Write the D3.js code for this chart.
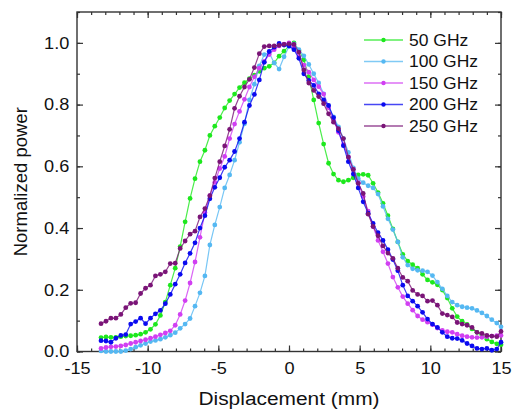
<!DOCTYPE html>
<html>
<head>
<meta charset="utf-8">
<script src="https://cdn.jsdelivr.net/npm/d3@7"></script>
<style>
  body { margin: 0; background: #fff; }
  text { font-family: "Liberation Sans", Arial, sans-serif; fill: #111; }
</style>
</head>
<body>
<script>
var W = 513, H = 410;
var margin = {top: 12, right: 12, bottom: 58.5, left: 77};
var w = W - margin.left - margin.right;   // 424
var h = H - margin.top - margin.bottom;   // 339.5

// displacement grid (mm)
var disp = [-13.3, -12.95, -12.6, -12.25, -11.9, -11.55, -11.2, -10.85, -10.5, -10.15,
    -9.8, -9.45, -9.1, -8.75, -8.4, -8.05, -7.7, -7.35, -7.0, -6.65,
    -6.3, -5.95, -5.6, -5.25, -4.9, -4.55, -4.2, -3.85, -3.5, -3.15,
    -2.8, -2.45, -2.1, -1.75, -1.4, -1.05, -0.7, -0.35, 0, 0.35,
    0.7, 1.05, 1.4, 1.75, 2.1, 2.45, 2.8, 3.15, 3.5, 3.85,
    4.2, 4.55, 4.9, 5.25, 5.6, 5.95, 6.3, 6.65, 7.0, 7.35,
    7.7, 8.05, 8.4, 8.75, 9.1, 9.45, 9.8, 10.15, 10.5, 10.85,
    11.2, 11.55, 11.9, 12.25, 12.6, 12.95, 13.3, 13.65, 14.0, 14.35,
    14.7, 15.0];

var p50 = [0.045, 0.047, 0.046, 0.046, 0.048, 0.05, 0.051, 0.053, 0.056, 0.062,
    0.072, 0.088, 0.117, 0.16, 0.215, 0.27, 0.34, 0.42, 0.496, 0.56,
    0.615, 0.652, 0.7, 0.73, 0.758, 0.789, 0.813, 0.834, 0.855, 0.871,
    0.884, 0.895, 0.908, 0.918, 0.924, 0.935, 0.957, 0.973, 0.99, 1.0,
    0.975, 0.945, 0.89, 0.815, 0.74, 0.672, 0.61, 0.575, 0.555, 0.55,
    0.555, 0.563, 0.572, 0.574, 0.571, 0.545, 0.515, 0.48, 0.44, 0.397,
    0.355, 0.315, 0.293, 0.281, 0.27, 0.25, 0.232, 0.224, 0.216, 0.199,
    0.173, 0.14, 0.113, 0.098, 0.088, 0.073, 0.062, 0.051, 0.04, 0.031,
    0.025, 0.022];

var p100 = [0.002, 0.0, 0.0, 0.0, 0.0, 0.003, 0.008, 0.014, 0.02, 0.026,
    0.032, 0.036, 0.04, 0.046, 0.053, 0.061, 0.075, 0.089, 0.107, 0.147,
    0.19, 0.245, 0.345, 0.41, 0.468, 0.53, 0.572, 0.62, 0.678, 0.738,
    0.815, 0.866, 0.925, 0.962, 0.968, 0.935, 0.915, 0.955, 0.988, 0.997,
    0.978, 0.958, 0.93, 0.9, 0.87, 0.835, 0.795, 0.76, 0.728, 0.69,
    0.645, 0.595, 0.56, 0.547, 0.537, 0.53, 0.51, 0.47, 0.43, 0.395,
    0.355, 0.305, 0.28, 0.268, 0.263, 0.262, 0.258, 0.246, 0.225, 0.203,
    0.18, 0.16, 0.15, 0.145, 0.142, 0.14, 0.133, 0.125, 0.115, 0.103,
    0.092, 0.08];

var p150 = [0.01, 0.013, 0.015, 0.016, 0.018, 0.021, 0.026, 0.03, 0.034, 0.038,
    0.043, 0.048, 0.054, 0.06, 0.067, 0.085, 0.12, 0.165, 0.222, 0.29,
    0.37, 0.45, 0.505, 0.548, 0.593, 0.632, 0.69, 0.737, 0.778, 0.817,
    0.857, 0.89, 0.918, 0.94, 0.962, 0.978, 0.99, 0.996, 1.0, 0.985,
    0.955, 0.928, 0.905, 0.88, 0.858, 0.834, 0.79, 0.75, 0.71, 0.67,
    0.63, 0.59, 0.547, 0.502, 0.455, 0.405, 0.36, 0.323, 0.285, 0.241,
    0.208, 0.178, 0.155, 0.134, 0.115, 0.103, 0.095, 0.087, 0.076, 0.068,
    0.064, 0.062, 0.056, 0.051, 0.048, 0.046, 0.045, 0.046, 0.048, 0.05,
    0.051, 0.052];

var p200 = [0.035, 0.034, 0.03, 0.043, 0.052, 0.055, 0.089, 0.097, 0.108, 0.09,
    0.108, 0.122, 0.133, 0.155, 0.185, 0.218, 0.25, 0.287, 0.318, 0.352,
    0.4, 0.44, 0.495, 0.532, 0.563, 0.597, 0.62, 0.648, 0.69, 0.743,
    0.797, 0.833, 0.88, 0.937, 0.972, 0.986, 0.998, 0.993, 0.99, 0.978,
    0.95, 0.9, 0.878, 0.862, 0.835, 0.815, 0.797, 0.758, 0.716, 0.667,
    0.615, 0.575, 0.53, 0.485, 0.448, 0.415, 0.385, 0.36, 0.33, 0.298,
    0.262, 0.215, 0.18, 0.163, 0.147, 0.127, 0.105, 0.089, 0.078, 0.062,
    0.048, 0.043, 0.042, 0.036, 0.026, 0.018, 0.01, 0.008, 0.01, 0.004,
    0.008, 0.03];

var p250 = [0.09, 0.098, 0.108, 0.108, 0.12, 0.142, 0.156, 0.158, 0.188, 0.205,
    0.215, 0.245, 0.25, 0.258, 0.285, 0.286, 0.334, 0.358, 0.38, 0.39,
    0.436, 0.463, 0.505, 0.562, 0.615, 0.666, 0.72, 0.788, 0.827, 0.857,
    0.882, 0.92, 0.965, 0.988, 0.99, 0.99, 0.992, 0.995, 0.997, 0.995,
    0.97, 0.912, 0.87, 0.846, 0.826, 0.803, 0.77, 0.743, 0.722, 0.69,
    0.63, 0.59, 0.545, 0.512, 0.445, 0.405, 0.375, 0.342, 0.319, 0.302,
    0.27, 0.24, 0.228, 0.198, 0.185, 0.18, 0.163, 0.165, 0.15, 0.123,
    0.118, 0.112, 0.094, 0.089, 0.085, 0.078, 0.062, 0.059, 0.052, 0.05,
    0.048, 0.065];

var names = ["50 GHz", "100 GHz", "150 GHz", "200 GHz", "250 GHz"];
var colors = ["#1de81d", "#55b8f2", "#d13ff2", "#0a0af0", "#7a1477"];
var xTicks = [-15, -10, -5, 0, 5, 10, 15];
var yTicks = [0.0, 0.2, 0.4, 0.6, 0.8, 1.0];

var series = [p50, p100, p150, p200, p250].map(function (vals, k) {
    return {name: names[k], color: colors[k],
        values: vals.map(function (v, i) { return {x: disp[i], y: v}; })};
});

var svg = d3.select("body").append("svg")
    .attr("width", W).attr("height", H)
    .append("g")
    .attr("transform", "translate(" + margin.left + "," + margin.top + ")");

var x = d3.scaleLinear().domain([-15, 15]).range([0, w]);
var y = d3.scaleLinear().domain([0, 1.1]).range([h, 0]);

// stretch text horizontally a bit (reference glyphs are wide)
function widen(sel, k) {
    sel.each(function () {
        var t = d3.select(this);
        t.attr("transform", (t.attr("transform") || "") + " scale(" + k + ",1)");
    });
}

var axisColor = "#333";
function styleAxis(g) {
    g.select(".domain").remove();
    g.selectAll("line").attr("stroke", axisColor).attr("stroke-width", 1.2);
    g.selectAll("text").style("font-size", "16.5px").attr("fill", "#111");
}

var minorX = d3.range(-15, 15.01, 1);
var minorY = d3.range(0, 1.101, 0.1);

// bottom
svg.append("g").attr("transform", "translate(0," + h + ")")
    .call(d3.axisBottom(x).tickValues(minorX).tickSize(-3).tickFormat(""))
    .call(styleAxis);
var xb = svg.append("g").attr("transform", "translate(0," + h + ")")
    .call(d3.axisBottom(x).tickValues(xTicks).tickSize(-6).tickPadding(11)
        .tickFormat(function (d) { return String(d); }))   // plain hyphen minus
    .call(styleAxis);
widen(xb.selectAll("text"), 1.1);
// top
svg.append("g")
    .call(d3.axisTop(x).tickValues(minorX).tickSize(-3).tickFormat(""))
    .call(styleAxis);
svg.append("g")
    .call(d3.axisTop(x).tickValues(xTicks).tickSize(-6).tickFormat(""))
    .call(styleAxis);
// left
svg.append("g")
    .call(d3.axisLeft(y).tickValues(minorY).tickSize(-3).tickFormat(""))
    .call(styleAxis);
var yl = svg.append("g")
    .call(d3.axisLeft(y).tickValues(yTicks).tickSize(-6).tickPadding(7)
        .tickFormat(d3.format(".1f")))
    .call(styleAxis);
widen(yl.selectAll("text"), 1.1);
// right
svg.append("g").attr("transform", "translate(" + w + ",0)")
    .call(d3.axisRight(y).tickValues(minorY).tickSize(-3).tickFormat(""))
    .call(styleAxis);
svg.append("g").attr("transform", "translate(" + w + ",0)")
    .call(d3.axisRight(y).tickValues(yTicks).tickSize(-6).tickFormat(""))
    .call(styleAxis);

// frame
svg.append("rect")
    .attr("width", w).attr("height", h)
    .attr("fill", "none").attr("stroke", axisColor).attr("stroke-width", 1.4);

// series
var line = d3.line()
    .x(function (d) { return x(d.x); })
    .y(function (d) { return y(d.y); });

var sg = svg.selectAll(".series").data(series).enter()
    .append("g").attr("class", "series");

sg.append("path")
    .attr("d", function (d) { return line(d.values); })
    .attr("fill", "none")
    .attr("stroke", function (d) { return d.color; })
    .attr("stroke-opacity", 0.8)
    .attr("stroke-width", 1.2);

sg.selectAll("circle")
    .data(function (d) { return d.values.map(function (v) { return {x: v.x, y: v.y, c: d.color}; }); })
    .enter().append("circle")
    .attr("cx", function (d) { return x(d.x); })
    .attr("cy", function (d) { return y(d.y); })
    .attr("r", 2.4)
    .attr("fill", function (d) { return d.c; });

// legend
var lg = svg.append("g").attr("transform", "translate(" + (364 - margin.left) + "," + (40 - margin.top) + ")");
var items = lg.selectAll(".item").data(series).enter()
    .append("g").attr("class", "item")
    .attr("transform", function (d, i) { return "translate(0," + (i * 21.5) + ")"; });
items.append("line")
    .attr("x1", 0).attr("x2", 39)
    .attr("stroke", function (d) { return d.color; })
    .attr("stroke-opacity", 0.75)
    .attr("stroke-width", 1.6);
items.append("circle")
    .attr("cx", 19.5).attr("r", 2.2)
    .attr("fill", function (d) { return d.color; });
var lt = items.append("text")
    .attr("x", 0).attr("dy", "0.36em")
    .attr("transform", "translate(45,0)")
    .style("font-size", "16.5px")
    .text(function (d) { return d.name; });
widen(lt, 1.06);

// axis titles
var xt = svg.append("text")
    .attr("text-anchor", "middle")
    .attr("transform", "translate(" + (w / 2) + "," + (405 - margin.top) + ")")
    .style("font-size", "19px")
    .text("Displacement (mm)");
widen(xt, 1.1);

svg.append("text")
    .attr("text-anchor", "middle")
    .attr("transform", "translate(" + (27 - margin.left) + "," + (h / 2) + ") rotate(-90)")
    .style("font-size", "18.5px")
    .text("Normalized power");
</script>
</body>
</html>
